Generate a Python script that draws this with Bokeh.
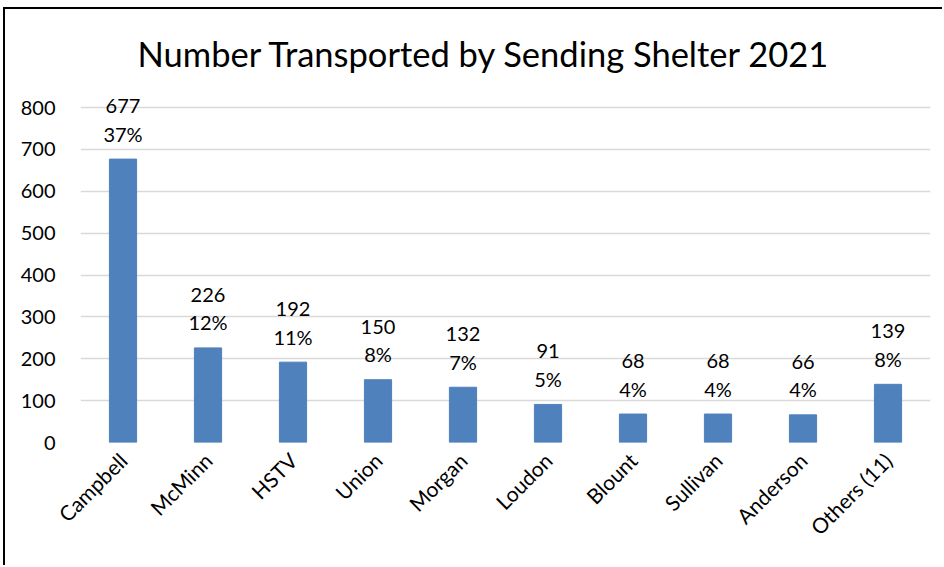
import math
from bokeh.plotting import figure
from bokeh.models import ColumnDataSource, FixedTicker, Range1d
from bokeh.core.properties import value
from bokeh.embed import file_html
from bokeh.resources import INLINE

shelters = ["Campbell", "McMinn", "HSTV", "Union", "Morgan", "Loudon",
            "Blount", "Sullivan", "Anderson", "Others (11)"]
counts = [677, 226, 192, 150, 132, 91, 68, 68, 66, 139]
pcts = ["37%", "12%", "11%", "8%", "7%", "5%", "4%", "4%", "4%", "8%"]
y_ticks = [0, 100, 200, 300, 400, 500, 600, 700, 800]

FONT = "Lato"
src = ColumnDataSource(dict(x=shelters, y=counts,
                            cnt=[str(c) for c in counts], pct=pcts))

p = figure(x_range=shelters, y_range=Range1d(0, 860), width=939, height=558,
           output_backend="svg", toolbar_location=None,
           min_border_left=75, min_border_right=14, min_border_top=73,
           min_border_bottom=125,
           title="Number Transported by Sending Shelter 2021")
p.margin = (7, 0, 0, 3)
p.styles = {"border-left": "2px solid black", "border-top": "2px solid black"}
p.outline_line_color = None
p.background_fill_color = "white"
p.border_fill_color = "white"

p.title.align = "left"
p.title.text_font = FONT
p.title.text_font_size = "34.5px"
p.title.text_font_style = "normal"
p.title.text_color = "black"
p.title.offset = 57
p.title.standoff = 17

p.vbar(x="x", top="y", width=0.32, source=src, fill_color="#4F81BD",
       line_color="#4F81BD")

p.text(x="x", y="y", text="pct", source=src, y_offset=-25.5,
       text_align="center", text_baseline="alphabetic",
       text_font=value(FONT), text_font_size="20px", text_color="black")
p.text(x="x", y="y", text="cnt", source=src, y_offset=-53,
       text_align="center", text_baseline="alphabetic",
       text_font=value(FONT), text_font_size="20px", text_color="black")

p.yaxis.ticker = FixedTicker(ticks=y_ticks)
p.yaxis.axis_line_color = None
p.yaxis.major_tick_line_color = None
p.yaxis.minor_tick_line_color = None
p.yaxis.major_tick_out = 0
p.yaxis.major_label_standoff = 25
p.yaxis.major_label_text_font = FONT
p.yaxis.major_label_text_font_size = "20px"
p.yaxis.major_label_text_color = "black"

p.xaxis.axis_line_color = None
p.xaxis.major_tick_line_color = None
p.xaxis.minor_tick_line_color = None
p.xaxis.major_tick_out = 0
p.xaxis.major_label_standoff = 14
p.xaxis.major_label_orientation = math.pi / 4
p.xaxis.major_label_text_font = FONT
p.xaxis.major_label_text_font_size = "21px"
p.xaxis.major_label_text_color = "black"

p.xgrid.grid_line_color = None
p.ygrid.grid_line_color = "#d9d9d9"
p.ygrid.grid_line_width = 1.5
p.x_range.range_padding = 0

open("out.html", "w").write(file_html(p, INLINE))
